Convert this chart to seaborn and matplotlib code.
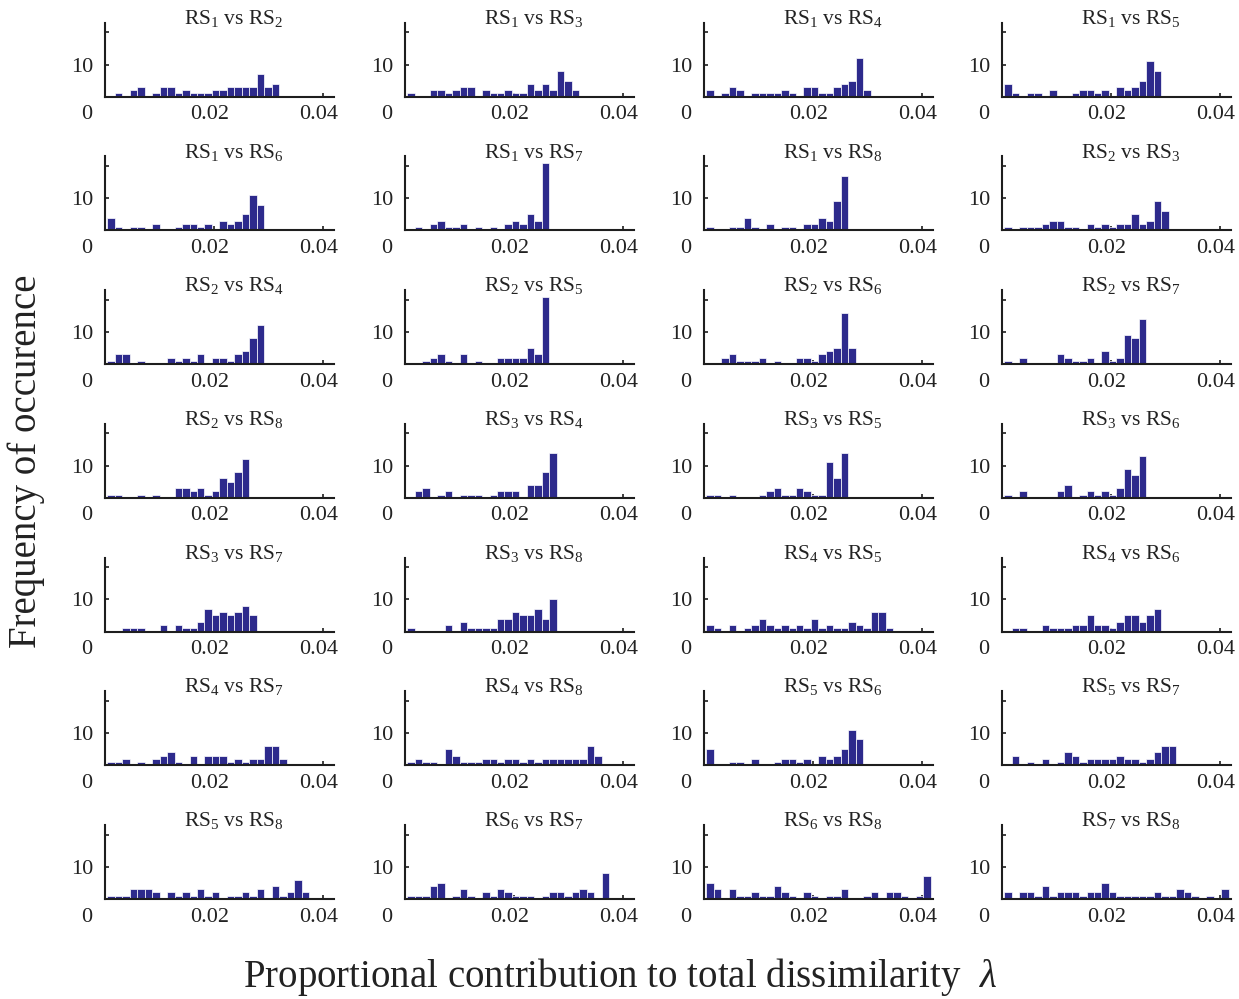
import numpy as np
import pandas as pd
import matplotlib
matplotlib.use("Agg")
import matplotlib.pyplot as plt
import matplotlib.transforms as mtransforms
import seaborn as sns

# ---------------- data (counts per bin) ----------------
bin_start = 0.00043
bin_width = 0.001374
n_bins = 30

rs1_rs2 = [0,1,0,2,3,0,1,3,3,1,2,1,1,1,2,2,3,3,3,3,7,3,4,0,0,0,0,0,0,0]
rs1_rs3 = [1,0,0,2,2,1,2,3,3,0,2,1,1,2,1,1,4,2,4,2,8,5,2,0,0,0,0,0,0,0]
rs1_rs4 = [2,0,1,3,2,0,1,1,1,1,2,1,0,3,3,1,1,3,4,5,12,2,0,0,0,0,0,0,0,0]
rs1_rs5 = [4,1,0,1,1,0,2,0,0,1,2,2,1,2,0,3,2,3,5,11,8,0,0,0,0,0,0,0,0,0]
rs1_rs6 = [4,1,0,1,1,0,2,0,0,1,2,2,1,2,0,3,2,3,5,11,8,0,0,0,0,0,0,0,0,0]
rs1_rs7 = [0,1,0,2,3,1,1,2,0,1,0,1,0,2,3,2,5,3,21,0,0,0,0,0,0,0,0,0,0,0]
rs1_rs8 = [1,0,0,1,1,4,1,0,2,0,1,1,0,2,2,4,3,9,17,0,0,0,0,0,0,0,0,0,0,0]
rs2_rs3 = [1,0,1,1,1,2,3,3,1,1,0,2,1,2,1,2,2,5,2,3,9,6,0,0,0,0,0,0,0,0]
rs2_rs4 = [1,3,3,0,1,0,0,0,2,1,2,1,3,0,2,2,1,3,4,8,12,0,0,0,0,0,0,0,0,0]
rs2_rs5 = [0,0,1,2,3,1,0,3,0,1,0,0,2,2,2,2,5,3,21,0,0,0,0,0,0,0,0,0,0,0]
rs2_rs6 = [0,0,2,3,1,1,1,2,0,1,0,0,2,2,1,3,4,5,16,5,0,0,0,0,0,0,0,0,0,0]
rs2_rs7 = [1,0,2,0,0,0,0,3,2,1,1,2,0,4,1,2,9,8,14,0,0,0,0,0,0,0,0,0,0,0]
rs2_rs8 = [1,1,0,0,1,0,1,0,0,3,3,2,3,1,2,6,5,8,12,0,0,0,0,0,0,0,0,0,0,0]
rs3_rs4 = [0,2,3,0,1,2,0,1,1,1,0,1,2,2,2,0,4,4,8,14,0,0,0,0,0,0,0,0,0,0]
rs3_rs5 = [1,1,0,1,0,0,0,1,2,3,1,1,3,2,1,1,11,6,14,0,0,0,0,0,0,0,0,0,0,0]
rs3_rs6 = [1,0,2,0,0,0,0,2,4,0,1,2,1,2,1,3,9,7,13,0,0,0,0,0,0,0,0,0,0,0]
rs3_rs7 = [0,0,1,1,1,0,0,2,0,2,1,1,3,7,5,6,5,6,8,5,0,0,0,0,0,0,0,0,0,0]
rs3_rs8 = [1,0,0,0,0,2,0,3,1,1,1,1,4,4,6,5,5,7,4,10,0,0,0,0,0,0,0,0,0,0]
rs4_rs5 = [2,1,0,2,0,1,2,4,2,1,2,1,2,1,4,1,2,1,1,3,2,1,6,6,1,0,0,0,0,0]
rs4_rs6 = [0,1,1,0,0,2,1,1,1,2,2,5,2,2,1,3,5,5,3,5,7,0,0,0,0,0,0,0,0,0]
rs4_rs7 = [1,1,2,0,1,0,2,3,4,1,0,3,0,3,3,3,1,2,1,2,2,6,6,2,0,0,0,0,0,0]
rs4_rs8 = [1,2,1,1,0,5,3,1,1,1,2,2,1,2,2,1,2,1,2,2,2,2,2,2,6,3,0,0,0,0]
rs5_rs6 = [5,0,0,1,1,0,2,0,0,1,2,2,1,2,0,3,2,3,5,11,8,0,0,0,0,0,0,0,0,0]
rs5_rs7 = [0,3,0,1,0,2,0,1,4,3,1,2,2,2,2,3,2,2,1,2,4,6,6,0,0,0,0,0,0,0]
rs5_rs8 = [1,1,1,3,3,3,2,0,2,1,2,1,3,1,2,0,1,1,2,1,3,0,4,1,2,6,2,0,0,0]
rs6_rs7 = [1,1,1,4,5,0,1,3,1,0,2,1,3,2,1,1,1,0,1,2,2,1,2,3,2,0,8,0,0,0]
rs6_rs8 = [5,3,0,3,1,1,2,1,1,4,2,1,0,2,1,0,1,1,3,0,0,1,2,0,2,2,1,0,1,7]
rs7_rs8 = [2,0,2,2,1,4,1,2,2,2,1,2,2,5,2,1,1,1,1,1,2,1,1,3,2,1,0,1,0,3]

titles = [
    "RS$_1$ vs RS$_2$", "RS$_1$ vs RS$_3$", "RS$_1$ vs RS$_4$", "RS$_1$ vs RS$_5$",
    "RS$_1$ vs RS$_6$", "RS$_1$ vs RS$_7$", "RS$_1$ vs RS$_8$", "RS$_2$ vs RS$_3$",
    "RS$_2$ vs RS$_4$", "RS$_2$ vs RS$_5$", "RS$_2$ vs RS$_6$", "RS$_2$ vs RS$_7$",
    "RS$_2$ vs RS$_8$", "RS$_3$ vs RS$_4$", "RS$_3$ vs RS$_5$", "RS$_3$ vs RS$_6$",
    "RS$_3$ vs RS$_7$", "RS$_3$ vs RS$_8$", "RS$_4$ vs RS$_5$", "RS$_4$ vs RS$_6$",
    "RS$_4$ vs RS$_7$", "RS$_4$ vs RS$_8$", "RS$_5$ vs RS$_6$", "RS$_5$ vs RS$_7$",
    "RS$_5$ vs RS$_8$", "RS$_6$ vs RS$_7$", "RS$_6$ vs RS$_8$", "RS$_7$ vs RS$_8$",
]
x_ticks = [0, 0.02, 0.04]
x_tick_labels = ["0", "0.02", "0.04"]
y_ticks = [10, 20]
y_tick_labels = ["10", ""]
y_label = "Frequency of occurence"
x_label = "Proportional contribution to total dissimilarity  $\\lambda$"

panels = [rs1_rs2, rs1_rs3, rs1_rs4, rs1_rs5, rs1_rs6, rs1_rs7, rs1_rs8,
          rs2_rs3, rs2_rs4, rs2_rs5, rs2_rs6, rs2_rs7, rs2_rs8,
          rs3_rs4, rs3_rs5, rs3_rs6, rs3_rs7, rs3_rs8,
          rs4_rs5, rs4_rs6, rs4_rs7, rs4_rs8,
          rs5_rs6, rs5_rs7, rs5_rs8, rs6_rs7, rs6_rs8, rs7_rs8]

# ---------------- style ----------------
sns.set_theme(style="ticks")
plt.rcParams['font.family'] = ['Liberation Serif', 'DejaVu Serif']
plt.rcParams['mathtext.fontset'] = 'custom'
plt.rcParams['mathtext.rm'] = 'Liberation Serif'
plt.rcParams['mathtext.it'] = 'Liberation Serif:italic'
plt.rcParams['mathtext.bf'] = 'Liberation Serif:bold'

bar_color = "#2d2a8c"
text_color = "#222222"
spine_color = "#1e1e1e"

W, H = 1239, 999
fig = plt.figure(figsize=(W / 100, H / 100), dpi=100)
fig.patch.set_facecolor("white")

col_left = [105, 405, 704, 1002]
row_base = [96.7 + 133.7 * i for i in range(7)]
ax_w, ax_h = 229, 74

edges = [bin_start + bin_width * k for k in range(n_bins + 1)]
centers = [(edges[k] + edges[k + 1]) / 2 for k in range(n_bins)]

for i, (counts, title) in enumerate(zip(panels, titles)):
    r, c = divmod(i, 4)
    ax = fig.add_axes([col_left[c] / W, 1 - row_base[r] / H, ax_w / W, ax_h / H])
    df = pd.DataFrame({"lam": centers, "n": counts})
    sns.histplot(data=df, x="lam", weights="n", bins=edges, ax=ax,
                 color=bar_color, edgecolor="white", linewidth=0.5, alpha=1)
    ax.set_xlim(0, 0.0421)
    ax.set_ylim(0, 23)
    ax.set_xlabel("")
    ax.set_ylabel("")
    ax.set_facecolor("white")
    for s in ["top", "right"]:
        ax.spines[s].set_visible(False)
    for s in ["left", "bottom"]:
        ax.spines[s].set_linewidth(1.5)
        ax.spines[s].set_color(spine_color)
    ax.set_xticks(x_ticks)
    ax.set_xticklabels(x_tick_labels)
    ax.set_yticks(y_ticks)
    ax.set_yticklabels(y_tick_labels)
    ax.tick_params(axis="both", direction="in", length=3, width=1.2,
                   colors=spine_color, labelcolor=text_color, labelsize=16)
    ax.tick_params(axis="x", pad=6.2)
    ax.tick_params(axis="y", pad=8.5)
    # shift tick labels horizontally like the reference
    for tick, dx in zip(ax.xaxis.get_major_ticks(), [-18, -4, -4]):
        off = mtransforms.ScaledTranslation(dx / 100, 0, fig.dpi_scale_trans)
        tick.label1.set_transform(tick.label1.get_transform() + off)
    ax.text(0.563, 0.985, title, transform=ax.transAxes, ha="center",
            va="baseline", fontsize=15.5, color=text_color)

fig.text(26 / W, 1 - 461 / H, y_label, rotation=90, ha="center", va="center",
         fontsize=28, color=text_color)
fig.text(620 / W, 1 - 977 / H, x_label, ha="center", va="center",
         fontsize=28, color=text_color)

fig.savefig("out.png", dpi=100, facecolor="white")
